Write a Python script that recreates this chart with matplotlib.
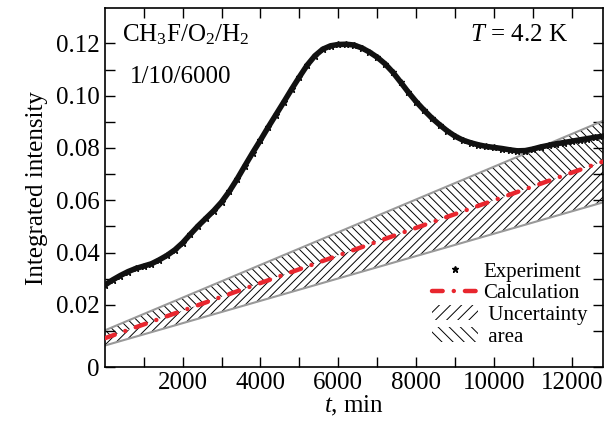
import numpy as np
import matplotlib.pyplot as plt
from matplotlib.lines import Line2D
from matplotlib.patches import Patch

plt.rcParams['font.family'] = ['Liberation Serif', 'DejaVu Serif']
plt.rcParams['mathtext.fontset'] = 'custom'
plt.rcParams['mathtext.rm'] = 'Liberation Serif'
plt.rcParams['mathtext.it'] = 'Liberation Serif:italic'
plt.rcParams['hatch.linewidth'] = 0.7

# experiment, every 200 min
t_exp = list(range(0, 12801, 200))
i_exp = [0.0275, 0.0295, 0.0312, 0.0327, 0.0339, 0.0348, 0.0357, 0.0372,
         0.0389, 0.0410, 0.0437, 0.0470, 0.0502, 0.0531, 0.0560, 0.0593,
         0.0634, 0.0681, 0.0732, 0.0782, 0.0830, 0.0880, 0.0928, 0.0976,
         0.1025, 0.1072, 0.1117, 0.1153, 0.1178, 0.1191, 0.1196, 0.1197,
         0.1194, 0.1183, 0.1167, 0.1147, 0.1122, 0.1090, 0.1052, 0.1013,
         0.0977, 0.0945, 0.0915, 0.0889, 0.0865, 0.0845, 0.0830, 0.0820,
         0.0812, 0.0806, 0.0802, 0.0798, 0.0793, 0.0789, 0.0790, 0.0796,
         0.0804, 0.0810, 0.0816, 0.0821, 0.0826, 0.0831, 0.0836, 0.0841,
         0.0845]

# calculation and uncertainty band (straight lines)
t_calc = [0, 12800]
i_calc = [0.0072, 0.0748]
i_low = [0.0044, 0.0592]
i_up = [0.0102, 0.0904]

fig = plt.figure(figsize=(6.16, 4.30), dpi=100)
ax = fig.add_axes([0.170, 0.1465, 0.809, 0.8345])

ax.fill_between(t_calc, i_calc, i_up, facecolor='white', edgecolor='black',
                linewidth=0, hatch='\\\\\\\\')
ax.fill_between(t_calc, i_low, i_calc, facecolor='white', edgecolor='black',
                linewidth=0, hatch='////')
ax.plot(t_calc, i_up, color='#999999', lw=1.5)
ax.plot(t_calc, i_low, color='#999999', lw=1.5)

ax.plot(t_exp, i_exp, color='#111111', lw=4, zorder=4)
ax.plot(t_exp, i_exp, ls='none', marker='*', ms=4.5, color='#111111', zorder=5)

calc, = ax.plot(t_calc, i_calc, color='#e8262e', lw=3.2, zorder=6,
                dash_capstyle='round')
calc.set_dashes((2.4, 2.5, 0.01, 2.5))

ax.set_xlim(0, 12800)
ax.set_ylim(-0.0038, 0.1335)
ax.set_xticks([2000, 4000, 6000, 8000, 10000, 12000])
ax.set_xticks(np.arange(1000, 12800, 1000), minor=True)
yt = [-0.0038, 0.02, 0.04, 0.06, 0.08, 0.10, 0.12]
ax.set_yticks(yt)
ax.set_yticklabels(['0', '0.02', '0.04', '0.06', '0.08', '0.10', '0.12'])
ax.set_yticks([0.01, 0.03, 0.05, 0.07, 0.09, 0.11], minor=True)
ax.tick_params(which='both', direction='in', top=True, right=True,
               labelsize=18)
ax.tick_params(which='major', length=7, width=1)
ax.tick_params(which='minor', length=7, width=1)
for s in ax.spines.values():
    s.set_linewidth(1.2)

ax.set_xlabel('$t$, min', fontsize=18, labelpad=0)
ax.set_ylabel('Integrated intensity', fontsize=18, labelpad=6)

ax.text(0.035, 0.96, r'CH$_3$F/O$_2$/H$_2$', transform=ax.transAxes,
        fontsize=18, va='top')
ax.text(0.05, 0.84, '1/10/6000', transform=ax.transAxes,
        fontsize=18, va='top')
ax.text(0.93, 0.955, r'$T$ = 4.2 K', transform=ax.transAxes,
        fontsize=18, va='top', ha='right')

handles = [
    Line2D([], [], ls='none', marker='*', ms=5, color='black'),
    Line2D([], [], color='#e8262e', lw=3.2, dashes=(2.4, 2.5, 0.01, 2.5),
           dash_capstyle='round'),
    Patch(facecolor='white', edgecolor='black', linewidth=0, hatch='///'),
    Patch(facecolor='white', edgecolor='black', linewidth=0, hatch='\\\\\\'),
]
labels = ['Experiment', 'Calculation', ' Uncertainty', ' area']
fig.legend(handles, labels, loc='upper left',
           bbox_to_anchor=(432 / 616, 1 - 262 / 430), frameon=False,
           fontsize=15, borderpad=0, borderaxespad=0, handletextpad=0.25,
           handlelength=2.2, labelspacing=0.1)

fig.savefig('out.png', dpi=100)
